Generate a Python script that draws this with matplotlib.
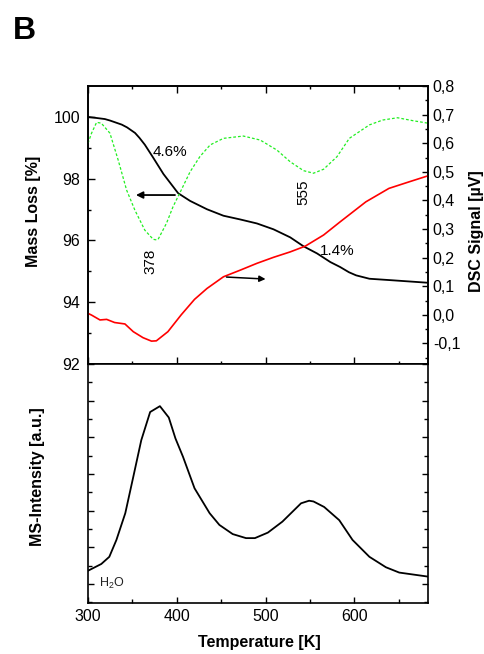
import matplotlib
matplotlib.use("Agg")
import matplotlib.pyplot as plt
from matplotlib.ticker import FixedLocator, NullFormatter

plt.rcParams['font.family'] = ['Liberation Sans', 'DejaVu Sans']
plt.rcParams['mathtext.fontset'] = 'custom'
plt.rcParams['mathtext.rm'] = 'Liberation Sans'
plt.rcParams['mathtext.it'] = 'Liberation Sans:italic'
plt.rcParams['mathtext.bf'] = 'Liberation Sans:bold'

# ---- thermogravimetry (mass loss, left axis) ----
tg_T = [300, 319, 325, 338, 344, 353, 358, 364, 373, 385, 401.5, 415, 434,
        452.6, 471.4, 490.3, 509, 527.8, 542.8, 558, 573, 584, 594, 602,
        617, 643, 683]
tg_mass = [100.0, 99.93, 99.88, 99.75, 99.66, 99.48, 99.32, 99.10, 98.70,
           98.15, 97.53, 97.28, 97.01, 96.80, 96.68, 96.55, 96.36, 96.10,
           95.81, 95.58, 95.30, 95.14, 94.97, 94.87, 94.76, 94.71, 94.63]

# ---- DSC signal (right axis) ----
dsc_T = [300, 304, 313.5, 321, 330, 341.6, 351, 362, 371.5, 377, 390, 405,
         420, 434, 452.6, 471.4, 490.3, 509, 527.8, 544.7, 565.4, 584, 613,
         639, 661.8, 683]
dsc_uV = [0.005, -0.001, -0.018, -0.016, -0.027, -0.032, -0.059, -0.080,
          -0.092, -0.091, -0.059, 0.0, 0.054, 0.092, 0.133, 0.156, 0.180,
          0.201, 0.220, 0.240, 0.279, 0.325, 0.395, 0.442, 0.465, 0.486]

# ---- DTG-like dashed trace (right axis scale) ----
dtg_T = [300, 304, 309.7, 315, 324.7, 334, 343.5, 352.8, 364, 373.4, 377,
         379, 388.4, 395.8, 405, 415, 426, 437.6, 452.6, 475, 494, 512.8,
         527.8, 542.8, 554, 565.4, 580.5, 594.4, 617, 632, 648.7, 665.5, 683]
dtg_val = [0.60, 0.635, 0.673, 0.670, 0.635, 0.541, 0.436, 0.366, 0.296,
           0.264, 0.262, 0.264, 0.320, 0.378, 0.436, 0.500, 0.553, 0.594,
           0.617, 0.625, 0.611, 0.576, 0.535, 0.504, 0.495, 0.509, 0.553,
           0.617, 0.664, 0.681, 0.689, 0.679, 0.670]

# ---- mass spectrometry, H2O signal ----
ms_T = [300, 315, 324, 332, 342, 351, 360, 370, 381, 391, 398.5, 407, 420,
        437, 448, 463, 478, 488, 502.6, 519, 540, 549, 554, 566, 583, 598,
        617, 635.6, 650.6, 683]
ms_int = [0.36, 0.545, 0.74, 1.2, 1.93, 2.92, 3.92, 4.69, 4.85, 4.54, 3.97,
          3.47, 2.61, 1.93, 1.61, 1.36, 1.25, 1.25, 1.40, 1.70, 2.20, 2.27,
          2.25, 2.10, 1.74, 1.20, 0.74, 0.455, 0.31, 0.20]

x_major = [300, 400, 500, 600]
x_minor = [350, 450, 550, 650]
mass_major = [92, 94, 96, 98, 100]
mass_minor = [93, 95, 97, 99]
dsc_major = [-0.1, 0.0, 0.1, 0.2, 0.3, 0.4, 0.5, 0.6, 0.7, 0.8]
dsc_minor = [-0.15, -0.05, 0.05, 0.15, 0.25, 0.35, 0.45, 0.55, 0.65, 0.75]
dsc_labels = ['-0,1', '0,0', '0,1', '0,2', '0,3', '0,4', '0,5', '0,6', '0,7', '0,8']
ms_major = [0, 1, 2, 3, 4, 5, 6]
ms_minor = [-0.5, 0.5, 1.5, 2.5, 3.5, 4.5, 5.5]

W, H = 485, 654
fig = plt.figure(figsize=(W / 100, H / 100), dpi=100)

L, R = 88, 428
ax = fig.add_axes([L / W, 1 - 364 / H, (R - L) / W, (364 - 86) / H])
ax2 = ax.twinx()
axb = fig.add_axes([L / W, 1 - 603 / H, (R - L) / W, (603 - 364) / H])

# top panel curves
ax.plot(tg_T, tg_mass, color='black', lw=1.3, zorder=3)
ax2.plot(dsc_T, dsc_uV, color='#ff0000', lw=1.2)
ax2.plot(dtg_T, dtg_val, color='#22ee22', lw=0.9, linestyle=(0, (2.2, 1.6)))

ax.set_xlim(300, 683)
ax.set_ylim(92, 101)
ax2.set_ylim(-0.172, 0.8)

ax.xaxis.set_major_locator(FixedLocator(x_major))
ax.xaxis.set_minor_locator(FixedLocator(x_minor))
ax.yaxis.set_major_locator(FixedLocator(mass_major))
ax.yaxis.set_minor_locator(FixedLocator(mass_minor))
ax.set_yticklabels([str(v) for v in mass_major])
ax2.yaxis.set_major_locator(FixedLocator(dsc_major))
ax2.yaxis.set_minor_locator(FixedLocator(dsc_minor))
ax2.set_yticklabels(dsc_labels)

ax.tick_params(axis='both', which='both', direction='in', top=True,
               right=False, labelbottom=False, labelsize=11.5, width=1)
ax.tick_params(which='major', length=5)
ax.tick_params(which='minor', length=2.5)
ax.tick_params(axis='y', pad=5.5)
ax2.tick_params(axis='y', which='both', direction='in', labelsize=11.5,
                pad=3.5, width=1)
ax2.tick_params(axis='y', which='major', length=4)
ax2.tick_params(axis='y', which='minor', length=2)

# annotations in the top panel
ax.text(373, 98.85, '4.6%', fontsize=11, ha='left', va='center')
ax.text(370.8, 95.33, '378', fontsize=11, ha='center', va='center', rotation=90)
ax.text(542.7, 97.57, '555', fontsize=11, ha='center', va='center', rotation=90)
ax.text(560.7, 95.65, '1.4%', fontsize=11, ha='left', va='center')
ax.annotate('', xy=(354, 97.47), xytext=(398, 97.47),
            arrowprops=dict(arrowstyle='-|>', color='black', lw=1.3,
                            mutation_scale=10, shrinkA=0, shrinkB=0))
ax2.annotate('', xy=(500, 0.125), xytext=(456, 0.132),
             arrowprops=dict(arrowstyle='-|>', color='black', lw=1.1,
                             mutation_scale=9, shrinkA=0, shrinkB=0))

# bottom panel
axb.plot(ms_T, ms_int, color='black', lw=1.3)
axb.set_xlim(300, 683)
axb.set_ylim(-0.52, 6)
axb.xaxis.set_major_locator(FixedLocator(x_major))
axb.xaxis.set_minor_locator(FixedLocator(x_minor))
axb.yaxis.set_major_locator(FixedLocator(ms_major))
axb.yaxis.set_minor_locator(FixedLocator(ms_minor))
axb.yaxis.set_major_formatter(NullFormatter())
axb.tick_params(axis='both', which='both', direction='in', top=False,
                right=True, labelleft=False, labelsize=11.5, width=1)
axb.tick_params(which='major', length=4.5)
axb.tick_params(which='minor', length=3)
axb.tick_params(axis='x', pad=4)
axb.text(312.4, -0.07, r'H$_\mathrm{2}$O', fontsize=9, ha='left', va='baseline',
         color='#222222')

for a in (ax, ax2, axb):
    for s in a.spines.values():
        s.set_linewidth(1.2)

# axis titles
fig.text(34 / W, 1 - 211.7 / H, 'Mass Loss [%]', rotation=90, ha='center',
         va='center', fontsize=11.5, fontweight='bold')
fig.text(476.5 / W, 1 - 231 / H, 'DSC Signal [µV]', rotation=90, ha='center',
         va='center', fontsize=11.5, fontweight='bold')
fig.text(37.5 / W, 1 - 476.7 / H, 'MS-Intensity [a.u.]', rotation=90,
         ha='center', va='center', fontsize=11.5, fontweight='bold')
fig.text(259.5 / W, 1 - 643 / H, 'Temperature [K]', ha='center', va='center',
         fontsize=11.5, fontweight='bold')
fig.text(12.5 / W, 1 - 39.3 / H, 'B', ha='left', va='baseline', fontsize=23,
         fontweight='bold')

fig.savefig('out.png', dpi=100)
